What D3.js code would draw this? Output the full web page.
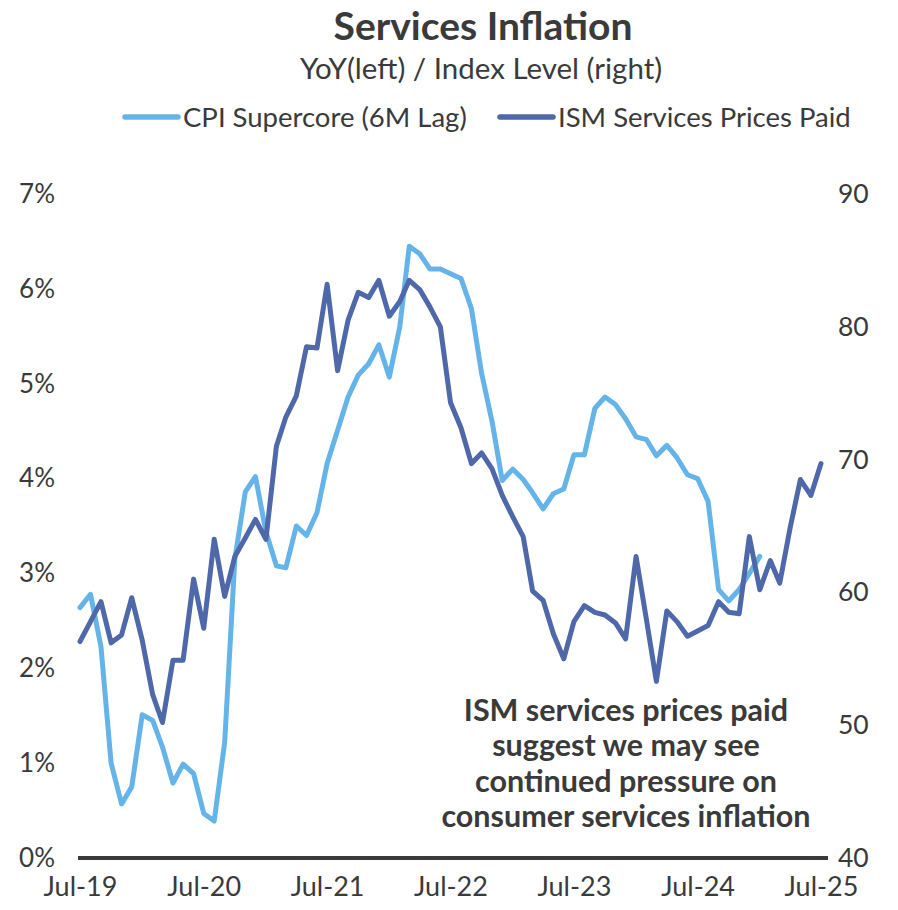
<!DOCTYPE html>
<html>
<head>
<meta charset="utf-8">
<script src="https://cdn.jsdelivr.net/npm/d3@7"></script>
<style>
  html, body { margin: 0; padding: 0; background: #fff; }
  svg text { font-family: Lato, "Open Sans", sans-serif; fill: #3a3a3a; }
</style>
</head>
<body>
<svg id="chart" width="898" height="910"></svg>
<script>
// ---- Data ----
const startMonth = "2019-07";
const ismPricesPaid = [56.3, 57.8, 59.3, 56.2, 56.8, 59.6, 56.4, 52.3, 50.2, 54.9, 54.9, 61.0,
  57.3, 64.0, 59.7, 62.7, 64.1, 65.5, 64.0, 71.0, 73.2, 74.8, 78.5, 78.4,
  83.2, 76.7, 80.5, 82.6, 82.2, 83.5, 80.8, 81.9, 83.5, 82.8, 81.5, 80.0,
  74.3, 72.4, 69.7, 70.5, 69.3, 67.3, 65.7, 64.2, 60.1, 59.4, 56.9, 55.0,
  57.8, 59.0, 58.5, 58.3, 57.7, 56.5, 62.7, 57.9, 53.3, 58.6, 57.8, 56.7,
  57.1, 57.5, 59.3, 58.5, 58.4, 64.2, 60.2, 62.4, 60.7, 64.9, 68.5, 67.3, 69.7];
const cpiSupercoreLag = [2.64, 2.78, 2.23, 1.00, 0.57, 0.75, 1.51, 1.45, 1.17, 0.79, 0.99, 0.89,
  0.47, 0.39, 1.22, 3.15, 3.86, 4.02, 3.44, 3.08, 3.06, 3.50, 3.40, 3.64,
  4.16, 4.51, 4.86, 5.09, 5.21, 5.41, 5.07, 5.60, 6.45, 6.37, 6.21, 6.21,
  6.16, 6.11, 5.79, 5.11, 4.60, 3.98, 4.10, 3.99, 3.85, 3.68, 3.84, 3.89,
  4.25, 4.25, 4.74, 4.86, 4.78, 4.63, 4.44, 4.41, 4.24, 4.35, 4.22, 4.04,
  4.00, 3.76, 2.83, 2.71, 2.83, 3.00, 3.18];
const xTickLabels = ["Jul-19", "Jul-20", "Jul-21", "Jul-22", "Jul-23", "Jul-24", "Jul-25"];
const leftTicks = [0, 1, 2, 3, 4, 5, 6, 7];
const rightTicks = [40, 50, 60, 70, 80, 90];
const seriesNames = ["CPI Supercore (6M Lag)", "ISM Services Prices Paid"];
const titleText = "Services Inflation";
const subtitleText = "YoY(left) / Index Level (right)";
const noteLines = ["ISM services prices paid", "suggest we may see", "continued pressure on", "consumer services inflation"];

// ---- Setup ----
const svg = d3.select("#chart");
const colLight = "#65b4e9", colDark = "#4e68a9", textCol = "#3a3a3a";
const parse = d3.timeParse("%Y-%m");
const t0 = parse(startMonth);
const dateAt = i => d3.timeMonth.offset(t0, i);

const x = d3.scaleTime().domain([t0, dateAt(72)]).range([80, 821]);
const yL = d3.scaleLinear().domain([0, 7]).range([858, 194]);
const yR = d3.scaleLinear().domain([40, 90]).range([858, 194]);

// Title
svg.append("text").attr("x", 483).attr("y", 40).attr("text-anchor", "middle")
  .style("font-size", "39px").style("font-weight", 700).text(titleText);
svg.append("text").attr("x", 481).attr("y", 79).attr("text-anchor", "middle")
  .style("font-size", "29.5px").text(subtitleText);

// Legend
const leg = [{name: seriesNames[0], col: colLight, x: 125}, {name: seriesNames[1], col: colDark, x: 500}];
leg.forEach(l => {
  svg.append("line").attr("x1", l.x).attr("x2", l.x + 53).attr("y1", 117).attr("y2", 117)
    .attr("stroke", l.col).attr("stroke-width", 5.5).attr("stroke-linecap", "round");
  svg.append("text").attr("x", l.x + 58).attr("y", 127).style("font-size", "27.5px").text(l.name);
});

// Left axis
const gL = svg.append("g").attr("transform", "translate(55,0)")
  .call(d3.axisLeft(yL).tickValues(leftTicks).tickFormat(d => d + "%").tickSize(0).tickPadding(0));
gL.select(".domain").remove();
gL.selectAll("text").style("font-size", "26px").style("font-family", "Lato, sans-serif").attr("fill", textCol);

// Right axis
const gR = svg.append("g").attr("transform", "translate(838,0)")
  .call(d3.axisRight(yR).tickValues(rightTicks).tickSize(0).tickPadding(0));
gR.select(".domain").remove();
gR.selectAll("text").style("font-size", "26.5px").style("font-family", "Lato, sans-serif").attr("fill", textCol);

// X axis
const fmt = d3.timeFormat("%b-%y");
const gX = svg.append("g").attr("transform", "translate(0,858)")
  .call(d3.axisBottom(x).tickValues(xTickLabels.map((_, k) => dateAt(12 * k))).tickFormat(fmt).tickSize(0).tickPadding(19));
gX.select(".domain").remove();
gX.selectAll("text").style("font-size", "27px").style("font-family", "Lato, sans-serif").attr("fill", textCol);

svg.append("line").attr("x1", 78).attr("x2", 828).attr("y1", 858).attr("y2", 858)
  .attr("stroke", "#3a3a3a").attr("stroke-width", 4);

// Lines
const lineL = d3.line().x((d, i) => x(dateAt(i))).y(d => yL(d));
const lineR = d3.line().x((d, i) => x(dateAt(i))).y(d => yR(d));
svg.append("path").datum(cpiSupercoreLag).attr("d", lineL).attr("fill", "none")
  .attr("stroke", colLight).attr("stroke-width", 5).attr("stroke-linejoin", "round").attr("stroke-linecap", "round");
svg.append("path").datum(ismPricesPaid).attr("d", lineR).attr("fill", "none")
  .attr("stroke", colDark).attr("stroke-width", 5).attr("stroke-linejoin", "round").attr("stroke-linecap", "round");

// Annotation
const note = svg.append("text").attr("text-anchor", "middle").style("font-size", "30.5px").style("font-weight", 700);
noteLines.forEach((s, k) => {
  note.append("tspan").attr("x", 626).attr("y", 721 + k * 35.3).text(s);
});
</script>
</body>
</html>
